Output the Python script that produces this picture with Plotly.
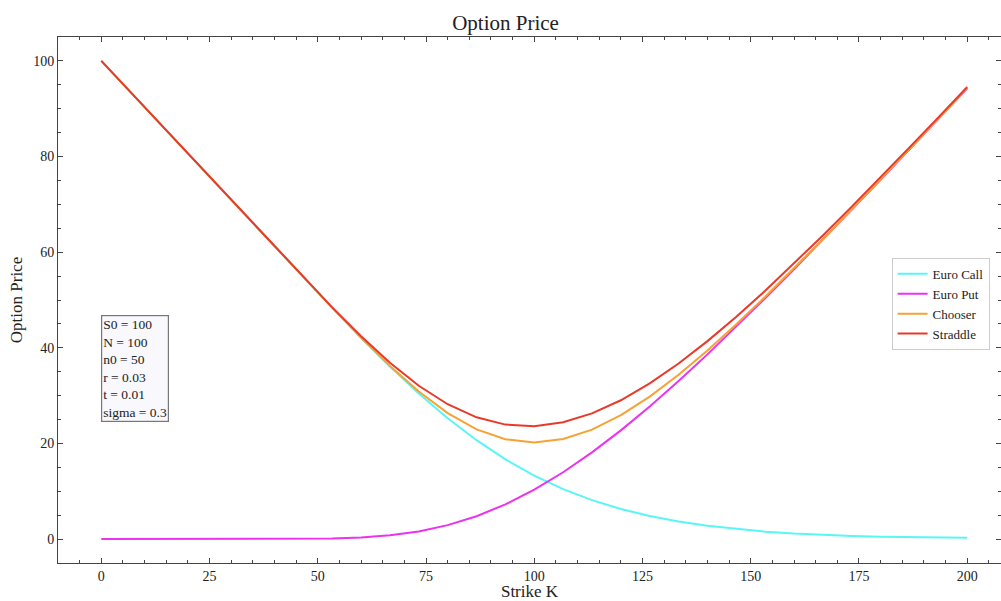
import plotly.graph_objects as go

strikes = [0, 6.67, 13.33, 20, 26.67, 33.33, 40, 46.67, 53.33, 60, 66.67, 73.33, 80, 86.67,
           93.33, 100, 106.67, 113.33, 120, 126.67, 133.33, 140, 146.67, 153.33, 160,
           166.67, 173.33, 180, 186.67, 193.33, 200]

euro_call = [100.0, 93.53, 87.06, 80.59, 74.12, 67.65, 61.18, 54.71, 48.35, 42.09, 36.08,
             30.45, 25.28, 20.68, 16.68, 13.28, 10.46, 8.15, 6.29, 4.82, 3.67, 2.77, 2.09,
             1.56, 1.17, 0.88, 0.66, 0.50, 0.40, 0.32, 0.26]

euro_put = [0.0, 0.0, 0.0, 0.0, 0.0, 0.0, 0.0, 0.01, 0.10, 0.32, 0.78, 1.61, 2.92, 4.79,
            7.26, 10.33, 13.98, 18.14, 22.74, 27.74, 33.06, 38.63, 44.42, 50.36, 56.44,
            62.62, 68.87, 75.15, 81.51, 87.88, 94.29]

chooser = [100.0, 93.53, 87.06, 80.59, 74.12, 67.65, 61.18, 54.71, 48.36, 42.12, 36.20,
           30.86, 26.34, 22.95, 20.88, 20.20, 20.92, 22.89, 25.91, 29.80, 34.37, 39.45,
           44.93, 50.67, 56.62, 62.72, 68.93, 75.19, 81.53, 87.89, 94.30]

straddle = [100.0, 93.53, 87.06, 80.59, 74.12, 67.65, 61.18, 54.72, 48.45, 42.41, 36.86,
            32.06, 28.20, 25.47, 23.94, 23.61, 24.44, 26.29, 29.03, 32.56, 36.73, 41.40,
            46.51, 51.92, 57.61, 63.50, 69.53, 75.65, 81.91, 88.20, 94.55]

params_text = ["S0 = 100", "N = 100", "n0 = 50", "r = 0.03", "t = 0.01", "sigma = 0.3"]

series = [
    ("Euro Call", euro_call, "rgba(90,245,245,1)"),
    ("Euro Put", euro_put, "rgba(235,50,240,1)"),
    ("Chooser", chooser, "rgba(246,162,52,1)"),
    ("Straddle", straddle, "rgba(232,58,42,1)"),
]

FONT = "Liberation Serif"

fig = go.Figure()
for name, vals, col in series:
    fig.add_trace(go.Scatter(x=strikes, y=vals, mode="lines", name=name,
                             line=dict(color=col, width=2)))

axis_common = dict(
    showgrid=False, zeroline=False, showline=True, linecolor="#444", linewidth=1,
    mirror="ticks", ticks="inside", ticklen=5, tickcolor="#444", automargin=False,
    tickfont=dict(family=FONT, size=14, color="#222"),
    minor=dict(ticks="inside", ticklen=3, tickcolor="#444", dtick=5),
)

fig.update_layout(
    width=1001, height=601,
    margin=dict(l=58, r=0, t=37, b=38),
    paper_bgcolor="white", plot_bgcolor="white",
    font=dict(family=FONT, color="#222"),
    title=dict(text="Option Price", x=0.505, xanchor="center", y=0.963, yanchor="middle",
               font=dict(family=FONT, size=21, color="#222")),
    xaxis=dict(range=[-10, 207.8], tickvals=[0, 25, 50, 75, 100, 125, 150, 175, 200],
               title=dict(text="Strike K", font=dict(family=FONT, size=17), standoff=4),
               **axis_common),
    yaxis=dict(range=[-5, 105], tickvals=[0, 20, 40, 60, 80, 100],
               title=dict(text="Option Price", font=dict(family=FONT, size=17), standoff=6),
               **axis_common),
    legend=dict(x=0.884, y=0.58, xanchor="left", yanchor="top",
                bgcolor="white", bordercolor="#ccc", borderwidth=1,
                font=dict(family=FONT, size=13, color="#222"), itemwidth=30,
                tracegroupgap=0),
    showlegend=True,
)

fig.add_annotation(
    x=0, y=35.6, xref="x", yref="y", xanchor="left", yanchor="middle",
    text="<br>".join(params_text), showarrow=False, align="left",
    font=dict(family=FONT, size=13.5, color="#222"),
    bgcolor="#f8f8fd", bordercolor="#777", borderwidth=1.2, borderpad=1,
)

fig.write_html("out.html", config={"displayModeBar": False},
               post_script="document.body.style.margin='0';document.body.style.overflow='hidden';")
